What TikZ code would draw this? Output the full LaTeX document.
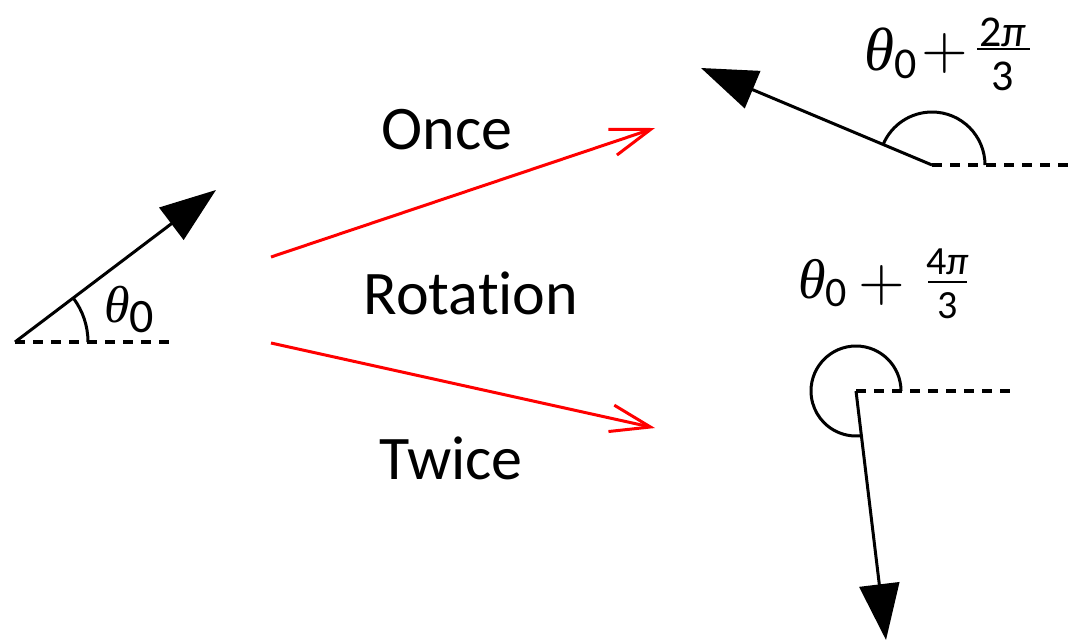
\documentclass[tikz,border=0pt]{standalone}
\usepackage{fontspec}
\setmainfont{Carlito}[Ligatures=NoCommon]
\newfontfamily\thetafont{Liberation Serif}
\usetikzlibrary{arrows.meta}
\newcommand{\fsz}[1]{\fontsize{#1}{#1}\selectfont}
\newcommand{\thv}{{\thetafont\itshape θ}}
\newcommand{\bigplus}{\scalebox{6}{$+$}}
\begin{document}
\begin{tikzpicture}[x=1pt,y=1pt,
  vec/.style={line width=3pt,-{Triangle[length=56pt,width=40pt]}},
  basel/.style={line width=3.2pt,dash pattern=on 10pt off 8pt},
  ang/.style={line width=3pt},
  rot/.style={red,line width=3pt,-{Straight Barb[length=40pt,width=27pt]}},
  lbl/.style={inner sep=0pt},
  fbar/.style={line width=2pt}]
\useasboundingbox (0,-641) rectangle (1076,0);
% vector 1
\coordinate (o1) at (15,-342);
\coordinate (t1) at (216,-190);
\coordinate (b1) at (172,-342);
\draw[basel] (o1) -- (b1);
\draw[ang] ([shift={(0:73)}]o1) arc (0:37:73);
\draw[vec] (o1) -- (t1);
\node[lbl,anchor=base west] (l1) at (104,-322) {\fsz{52}\thv\raisebox{-10pt}{\fsz{48}0}};
% vector 2
\coordinate (o2) at (932,-165);
\coordinate (t2) at (701,-68);
\coordinate (b2) at (1072,-165);
\draw[basel] (o2) -- (b2);
\draw[ang] ([shift={(0:53)}]o2) arc (0:157:53);
\draw[vec] (o2) -- (t2);
\node[lbl,anchor=base west] (l2) at (864,-70) {\fsz{61}\thv\raisebox{-8pt}{\fsz{44}0}};
\node[lbl] (p2) at (945,-53) {\bigplus};
\node[lbl] (n2) at (1003,-32) {\fsz{44}2\textit{π}};
\node[lbl] (d2) at (1003,-76) {\fsz{44}3};
\draw[fbar] (977,-49) -- (1030,-49);
% vector 3
\coordinate (o3) at (856,-391);
\coordinate (t3) at (886,-640);
\coordinate (b3) at (1015,-391);
\draw[basel] (o3) -- (b3);
\draw[ang] ([shift={(0:45)}]o3) arc (0:277:45);
\draw[vec] (o3) -- (t3);
\node[lbl,anchor=base west] (l3) at (798,-298) {\fsz{56}\thv\raisebox{-8pt}{\fsz{42}0}};
\node[lbl] (p3) at (882,-285) {\bigplus};
\node[lbl] (n3) at (948,-262) {\fsz{40}4\textit{π}};
\node[lbl] (d3) at (948,-306) {\fsz{40}3};
\draw[fbar] (928,-282) -- (967,-282);
% rotation arrows
\coordinate (s1) at (271,-257);
\coordinate (e1) at (655,-128);
\coordinate (s2) at (271,-343);
\coordinate (e2) at (655,-428);
\draw[rot] (s1) -- (e1);
\draw[rot] (s2) -- (e2);
\node[lbl] (once) at (447,-130) {\fsz{62}Once};
\node[lbl] (rotation) at (471,-293) {\fsz{62}Rotat\kern0pt ion};
\node[lbl] (twice) at (451,-458) {\fsz{62}Twice};
\end{tikzpicture}
\end{document}
